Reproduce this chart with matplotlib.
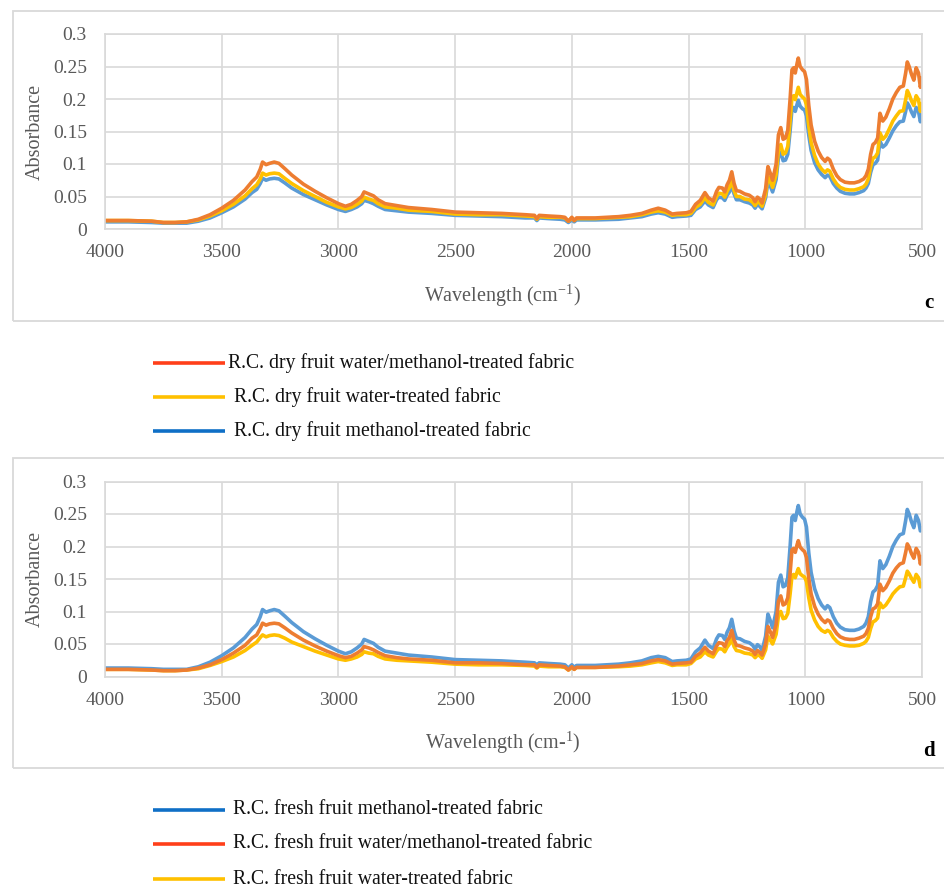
import matplotlib
matplotlib.use("Agg")
import matplotlib.pyplot as plt
from matplotlib.patches import Rectangle
from matplotlib.lines import Line2D

plt.rcParams['font.family'] = ['Liberation Serif', 'DejaVu Serif']
plt.rcParams['mathtext.fontset'] = 'custom'
plt.rcParams['mathtext.rm'] = 'Liberation Serif'
plt.rcParams['mathtext.it'] = 'Liberation Serif:italic'

# ---------------- data ----------------
wavenumber = [4000, 3900, 3800, 3750, 3700, 3650, 3600, 3550, 3500, 3450, 3400, 3370, 3350, 3335, 3325,
              3310, 3295, 3275, 3255, 3230, 3200, 3150, 3100, 3050, 3000, 2970, 2945, 2920, 2900, 2890,
              2870, 2850, 2830, 2800, 2750, 2700, 2600, 2500, 2400, 2300, 2200, 2160, 2150, 2140, 2100,
              2050, 2030, 2015, 2000, 1990, 1980, 1900, 1800, 1750, 1700, 1660, 1630, 1600, 1570, 1550,
              1510, 1490, 1470, 1450, 1430, 1415, 1395, 1380, 1370, 1355, 1345, 1335, 1325, 1315, 1305,
              1295, 1280, 1260, 1240, 1225, 1215, 1205, 1195, 1185, 1170, 1160, 1150, 1140, 1125, 1115,
              1105, 1095, 1085, 1075, 1065, 1057, 1050, 1043, 1035, 1030, 1022, 1012, 1003, 995, 985,
              975, 960, 945, 930, 915, 905, 895, 880, 865, 850, 830, 810, 790, 770, 750,
              740, 730, 720, 710, 700, 690, 680, 668, 655, 640, 625, 610, 595, 580, 570,
              563, 555, 545, 535, 525, 515, 507, 500]

# panel c
dry_water_methanol = [0.013, 0.013, 0.012, 0.010, 0.010, 0.011, 0.015, 0.022, 0.032, 0.044, 0.060, 0.073, 0.080, 0.092, 0.103,
                      0.099, 0.101, 0.103, 0.101, 0.093, 0.083, 0.069, 0.058, 0.048, 0.039, 0.035, 0.038, 0.044, 0.050, 0.057,
                      0.054, 0.051, 0.045, 0.039, 0.036, 0.033, 0.030, 0.026, 0.025, 0.024, 0.022, 0.021, 0.016, 0.021, 0.020,
                      0.019, 0.018, 0.012, 0.018, 0.013, 0.017, 0.017, 0.019, 0.021, 0.024, 0.029, 0.032, 0.029, 0.023, 0.024,
                      0.025, 0.027, 0.038, 0.044, 0.056, 0.048, 0.043, 0.058, 0.064, 0.063, 0.057, 0.068, 0.075, 0.088, 0.070,
                      0.059, 0.058, 0.054, 0.052, 0.048, 0.042, 0.049, 0.046, 0.040, 0.062, 0.096, 0.086, 0.075, 0.100, 0.145,
                      0.156, 0.138, 0.140, 0.152, 0.200, 0.245, 0.248, 0.240, 0.255, 0.263, 0.250, 0.245, 0.242, 0.230, 0.190,
                      0.160, 0.135, 0.120, 0.110, 0.104, 0.109, 0.106, 0.092, 0.082, 0.076, 0.072, 0.071, 0.071, 0.073, 0.077,
                      0.082, 0.092, 0.115, 0.130, 0.133, 0.140, 0.178, 0.166, 0.172, 0.185, 0.200, 0.210, 0.218, 0.220, 0.240,
                      0.257, 0.250, 0.238, 0.229, 0.248, 0.240, 0.218, 0.232]

dry_water = [0.013, 0.013, 0.012, 0.010, 0.010, 0.011, 0.014, 0.020, 0.028, 0.038, 0.051, 0.062, 0.068, 0.077, 0.086,
             0.083, 0.085, 0.086, 0.085, 0.078, 0.070, 0.059, 0.050, 0.041, 0.034, 0.031, 0.033, 0.038, 0.043, 0.049,
             0.046, 0.044, 0.039, 0.034, 0.032, 0.029, 0.027, 0.023, 0.022, 0.022, 0.020, 0.019, 0.015, 0.019, 0.018,
             0.018, 0.017, 0.012, 0.017, 0.013, 0.016, 0.016, 0.018, 0.019, 0.022, 0.026, 0.028, 0.026, 0.021, 0.022,
             0.022, 0.024, 0.033, 0.038, 0.048, 0.041, 0.037, 0.050, 0.055, 0.054, 0.049, 0.058, 0.064, 0.074, 0.059,
             0.050, 0.050, 0.046, 0.045, 0.041, 0.036, 0.042, 0.040, 0.035, 0.053, 0.081, 0.073, 0.064, 0.084, 0.121,
             0.130, 0.115, 0.117, 0.127, 0.166, 0.203, 0.205, 0.199, 0.211, 0.218, 0.207, 0.203, 0.200, 0.191, 0.158,
             0.133, 0.113, 0.100, 0.092, 0.087, 0.091, 0.089, 0.077, 0.069, 0.064, 0.061, 0.060, 0.060, 0.062, 0.065,
             0.069, 0.077, 0.096, 0.109, 0.111, 0.117, 0.148, 0.138, 0.143, 0.154, 0.166, 0.174, 0.181, 0.182, 0.199,
             0.213, 0.207, 0.197, 0.190, 0.205, 0.199, 0.181, 0.192]

dry_methanol = [0.011, 0.011, 0.010, 0.009, 0.009, 0.009, 0.012, 0.017, 0.025, 0.034, 0.046, 0.056, 0.061, 0.070, 0.078,
                0.075, 0.077, 0.078, 0.077, 0.071, 0.063, 0.053, 0.045, 0.037, 0.030, 0.027, 0.030, 0.034, 0.039, 0.044,
                0.042, 0.039, 0.035, 0.030, 0.028, 0.026, 0.024, 0.021, 0.020, 0.019, 0.017, 0.017, 0.013, 0.017, 0.016,
                0.015, 0.014, 0.010, 0.014, 0.011, 0.014, 0.014, 0.015, 0.017, 0.019, 0.023, 0.025, 0.023, 0.018, 0.019,
                0.020, 0.021, 0.030, 0.034, 0.043, 0.037, 0.033, 0.045, 0.049, 0.048, 0.044, 0.052, 0.057, 0.067, 0.054,
                0.045, 0.045, 0.042, 0.040, 0.037, 0.032, 0.038, 0.035, 0.031, 0.048, 0.073, 0.066, 0.057, 0.076, 0.110,
                0.118, 0.105, 0.106, 0.115, 0.151, 0.185, 0.187, 0.181, 0.192, 0.198, 0.189, 0.185, 0.183, 0.174, 0.144,
                0.121, 0.102, 0.091, 0.084, 0.079, 0.083, 0.081, 0.070, 0.063, 0.058, 0.055, 0.054, 0.054, 0.056, 0.059,
                0.063, 0.070, 0.087, 0.099, 0.101, 0.106, 0.135, 0.126, 0.130, 0.140, 0.151, 0.159, 0.165, 0.166, 0.181,
                0.194, 0.189, 0.180, 0.173, 0.187, 0.181, 0.165, 0.175]

# panel d
fresh_methanol = [0.013, 0.013, 0.012, 0.011, 0.011, 0.011, 0.015, 0.022, 0.032, 0.044, 0.060, 0.073, 0.080, 0.092, 0.103,
                  0.099, 0.101, 0.103, 0.101, 0.093, 0.083, 0.069, 0.058, 0.048, 0.039, 0.035, 0.038, 0.044, 0.050, 0.057,
                  0.054, 0.051, 0.045, 0.039, 0.036, 0.033, 0.030, 0.026, 0.025, 0.024, 0.022, 0.021, 0.018, 0.021, 0.020,
                  0.019, 0.018, 0.013, 0.018, 0.014, 0.017, 0.017, 0.019, 0.021, 0.024, 0.029, 0.031, 0.029, 0.023, 0.024,
                  0.025, 0.027, 0.038, 0.044, 0.056, 0.048, 0.043, 0.058, 0.064, 0.063, 0.057, 0.068, 0.075, 0.088, 0.070,
                  0.059, 0.058, 0.054, 0.052, 0.048, 0.042, 0.049, 0.046, 0.040, 0.062, 0.096, 0.086, 0.075, 0.100, 0.145,
                  0.156, 0.138, 0.140, 0.152, 0.200, 0.245, 0.248, 0.240, 0.255, 0.263, 0.250, 0.245, 0.242, 0.230, 0.190,
                  0.160, 0.135, 0.120, 0.110, 0.104, 0.109, 0.106, 0.092, 0.082, 0.076, 0.072, 0.071, 0.071, 0.073, 0.077,
                  0.082, 0.092, 0.115, 0.130, 0.133, 0.140, 0.178, 0.166, 0.172, 0.185, 0.200, 0.210, 0.218, 0.220, 0.240,
                  0.257, 0.250, 0.238, 0.229, 0.248, 0.240, 0.224, 0.228]

fresh_water_methanol = [0.011, 0.011, 0.010, 0.009, 0.009, 0.010, 0.013, 0.018, 0.026, 0.036, 0.048, 0.059, 0.064, 0.074, 0.082,
                        0.079, 0.081, 0.082, 0.081, 0.075, 0.067, 0.056, 0.047, 0.039, 0.032, 0.029, 0.031, 0.036, 0.041, 0.046,
                        0.044, 0.041, 0.037, 0.032, 0.029, 0.027, 0.025, 0.021, 0.021, 0.020, 0.018, 0.018, 0.014, 0.018, 0.017,
                        0.016, 0.015, 0.010, 0.015, 0.011, 0.014, 0.014, 0.016, 0.018, 0.020, 0.024, 0.026, 0.024, 0.019, 0.020,
                        0.021, 0.022, 0.031, 0.036, 0.045, 0.039, 0.035, 0.047, 0.052, 0.051, 0.046, 0.055, 0.060, 0.071, 0.056,
                        0.048, 0.047, 0.044, 0.042, 0.039, 0.034, 0.040, 0.037, 0.033, 0.050, 0.077, 0.069, 0.060, 0.080, 0.116,
                        0.124, 0.110, 0.112, 0.121, 0.159, 0.195, 0.197, 0.191, 0.203, 0.209, 0.199, 0.195, 0.192, 0.183, 0.151,
                        0.127, 0.108, 0.096, 0.088, 0.083, 0.087, 0.085, 0.074, 0.066, 0.061, 0.058, 0.057, 0.057, 0.059, 0.062,
                        0.066, 0.074, 0.092, 0.104, 0.106, 0.112, 0.142, 0.132, 0.137, 0.147, 0.159, 0.167, 0.173, 0.175, 0.191,
                        0.204, 0.199, 0.189, 0.182, 0.197, 0.191, 0.173, 0.184]

fresh_water = [0.011, 0.011, 0.010, 0.009, 0.009, 0.010, 0.012, 0.017, 0.023, 0.030, 0.040, 0.048, 0.053, 0.060, 0.064,
               0.061, 0.063, 0.064, 0.063, 0.059, 0.053, 0.046, 0.039, 0.033, 0.027, 0.025, 0.027, 0.030, 0.034, 0.038,
               0.036, 0.035, 0.031, 0.027, 0.025, 0.024, 0.022, 0.019, 0.018, 0.018, 0.017, 0.016, 0.013, 0.016, 0.015,
               0.015, 0.014, 0.010, 0.014, 0.011, 0.014, 0.014, 0.015, 0.016, 0.018, 0.021, 0.023, 0.021, 0.017, 0.018,
               0.018, 0.020, 0.027, 0.030, 0.038, 0.033, 0.030, 0.039, 0.043, 0.042, 0.038, 0.045, 0.050, 0.058, 0.046,
               0.040, 0.039, 0.036, 0.035, 0.033, 0.029, 0.033, 0.032, 0.028, 0.041, 0.062, 0.056, 0.050, 0.065, 0.093,
               0.100, 0.089, 0.090, 0.097, 0.127, 0.155, 0.157, 0.152, 0.161, 0.166, 0.158, 0.155, 0.153, 0.146, 0.121,
               0.102, 0.087, 0.077, 0.071, 0.068, 0.071, 0.069, 0.060, 0.054, 0.050, 0.048, 0.047, 0.047, 0.048, 0.051,
               0.054, 0.060, 0.074, 0.084, 0.086, 0.090, 0.113, 0.106, 0.110, 0.118, 0.127, 0.133, 0.138, 0.139, 0.152,
               0.162, 0.158, 0.151, 0.145, 0.157, 0.152, 0.138, 0.142]

x_ticks = [4000, 3500, 3000, 2500, 2000, 1500, 1000, 500]
y_ticks = [0, 0.05, 0.1, 0.15, 0.2, 0.25, 0.3]
y_tick_labels = ['0', '0.05', '0.1', '0.15', '0.2', '0.25', '0.3']

legend_c = ['R.C. dry fruit water/methanol-treated fabric',
            ' R.C. dry fruit water-treated fabric',
            ' R.C. dry fruit methanol-treated fabric']
legend_d = ['R.C. fresh fruit methanol-treated fabric',
            'R.C. fresh fruit water/methanol-treated fabric',
            'R.C. fresh fruit water-treated fabric']

# plot colours / legend colours
ORANGE, YELLOW, BLUE = '#ED7D31', '#FFC000', '#5B9BD5'
L_RED, L_YEL, L_BLUE = '#FF3F1A', '#FFC000', '#0F6FC6'
GRID = '#D9D9D9'
TXT = '#595959'

W, H = 944, 893
fig = plt.figure(figsize=(W / 100, H / 100), dpi=100)


def fx(x):
    return x / W


def fy(y):
    return 1 - y / H


def panel_box(top, bottom):
    fig.patches.append(Rectangle((fx(13), fy(bottom)), fx(990) - fx(13), (bottom - top) / H,
                                 transform=fig.transFigure, fill=False, edgecolor=GRID, lw=1.3))


def make_axes(top_px, bottom_px, xlabel, tag, tag_y):
    ax = fig.add_axes([fx(105), fy(bottom_px), (922 - 105) / W, (bottom_px - top_px) / H])
    ax.set_xlim(4000, 500)
    ax.set_ylim(0, 0.3)
    ax.set_xticks(x_ticks)
    ax.set_xticklabels([str(t) for t in x_ticks])
    ax.set_yticks(y_ticks)
    ax.set_yticklabels(y_tick_labels)
    ax.grid(True, color=GRID, lw=1.2)
    ax.set_axisbelow(True)
    for s in ax.spines.values():
        s.set_color(GRID)
        s.set_linewidth(1.2)
    ax.tick_params(axis='both', length=0, labelcolor=TXT, labelsize=14)
    ax.tick_params(axis='x', pad=11)
    ax.tick_params(axis='y', pad=13)
    ax.set_ylabel('Absorbance', fontsize=14.5, color=TXT)
    ax.yaxis.set_label_coords(-0.074, 0.5)
    ax.set_xlabel(xlabel, fontsize=14.5, color=TXT)
    ax.xaxis.set_label_coords(0.487, -0.275)
    fig.text(fx(929), fy(tag_y), tag, fontsize=15, fontweight='bold', ha='center', va='center')
    return ax


def legend_rows(rows, y_positions, text_x):
    for (label, col), y, tx in zip(rows, y_positions, text_x):
        fig.add_artist(Line2D([fx(153), fx(225)], [fy(y), fy(y)], transform=fig.transFigure,
                              color=col, lw=2.6, solid_capstyle='butt'))
        fig.text(fx(tx), fy(y), label, fontsize=14.2, color='#111111', ha='left', va='center')


# ---------- panel c ----------
panel_box(11, 321)
axc = make_axes(34, 229, 'Wavelength (cm$^{-1}$)', 'c', 303)
axc.plot(wavenumber, dry_methanol, color=BLUE, lw=2.6)
axc.plot(wavenumber, dry_water, color=YELLOW, lw=2.6)
axc.plot(wavenumber, dry_water_methanol, color=ORANGE, lw=2.6)
legend_rows([(legend_c[0], L_RED), (legend_c[1], L_YEL), (legend_c[2], L_BLUE)],
            [363, 397, 431], [228, 229, 229])

# ---------- panel d ----------
panel_box(458, 768)
axd = make_axes(481.5, 676.5, 'Wavelength (cm-$^{1}$)', 'd', 751)
axd.plot(wavenumber, fresh_water, color=YELLOW, lw=2.6)
axd.plot(wavenumber, fresh_methanol, color=BLUE, lw=2.6)
axd.plot(wavenumber, fresh_water_methanol, color=ORANGE, lw=2.6)
legend_rows([(legend_d[0], L_BLUE), (legend_d[1], L_RED), (legend_d[2], L_YEL)],
            [810, 844, 879], [233, 233, 233])

fig.savefig('out.png', dpi=100, facecolor='white')
